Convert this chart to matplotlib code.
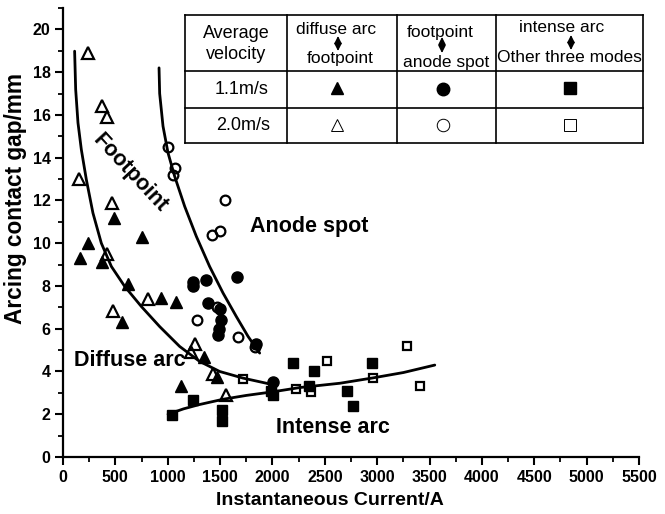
import matplotlib
matplotlib.use("Agg")
import matplotlib.pyplot as plt
from matplotlib.ticker import MultipleLocator

plt.rcParams['font.family'] = ['Liberation Sans', 'DejaVu Sans']

# diffuse arc <-> footpoint transition points
tri_11_x = [487, 754, 235, 162, 372, 620, 936, 1077, 565, 1347, 1470, 1122]
tri_11_y = [11.2, 10.3, 10.0, 9.3, 9.1, 8.1, 7.45, 7.25, 6.3, 4.7, 3.75, 3.3]
tri_20_x = [239, 372, 420, 153, 468, 420, 811, 480, 1262, 1225, 1432, 1556]
tri_20_y = [18.9, 16.4, 15.9, 13.0, 11.9, 9.5, 7.4, 6.85, 5.3, 4.9, 3.9, 2.9]

# footpoint <-> anode spot transition points
circ_11_x = [1241, 1241, 1365, 1661, 1384, 1499, 1509, 1490, 1480, 1843, 2005]
circ_11_y = [8.2, 8.0, 8.3, 8.4, 7.2, 6.9, 6.4, 6.0, 5.7, 5.3, 3.5]
circ_20_x = [1003, 1069, 1050, 1547, 1423, 1499, 1470, 1279, 1671, 1833]
circ_20_y = [14.5, 13.5, 13.2, 12.0, 10.4, 10.55, 7.0, 6.4, 5.6, 5.15]

# intense arc <-> other three modes transition points
sq_11_x = [1041, 1241, 1518, 1518, 1990, 2005, 2196, 2349, 2397, 2712, 2769, 2950]
sq_11_y = [1.97, 2.67, 2.2, 1.7, 3.1, 2.9, 4.4, 3.3, 4.0, 3.1, 2.4, 4.4]
sq_20_x = [1719, 2225, 2368, 2521, 2960, 3285, 3409]
sq_20_y = [3.65, 3.2, 3.05, 4.5, 3.7, 5.2, 3.3]

# boundary curves between the arc modes
diffuse_fp_x = [111, 121, 143, 175, 223, 286, 366, 462, 589, 748, 923, 1114,
                1305, 1496, 1719, 1942, 1995]
diffuse_fp_y = [18.98, 17.19, 15.63, 14.38, 12.97, 11.41, 10.0, 8.91, 7.98, 7.04, 6.10, 5.17,
                4.47, 4.0, 3.69, 3.45, 3.38]
fp_anode_x = [917, 923, 955, 1003, 1066, 1162, 1273, 1400, 1528, 1655, 1767, 1878]
fp_anode_y = [18.2, 17.0, 15.47, 14.22, 13.13, 11.72, 10.32, 8.91, 7.67, 6.57, 5.64, 4.86]
intense_x = [1003, 1150, 1300, 1528, 1750, 2005, 2264, 2645, 2960, 3250, 3550]
intense_y = [2.0, 2.25, 2.45, 2.7, 2.88, 3.05, 3.25, 3.45, 3.7, 3.95, 4.3]

x_ticks = list(range(0, 5501, 500))
y_ticks = list(range(0, 21, 2))

fig = plt.figure(figsize=(6.65, 5.14), dpi=100)
ax = fig.add_axes([63 / 665, 1 - 457 / 514, 576 / 665, 449 / 514])

filled = dict(color='black', linestyle='none')
hollow = dict(color='black', linestyle='none', markerfacecolor='none', markeredgewidth=1.6)
ax.plot(tri_11_x, tri_11_y, marker='^', markersize=8, **filled)
ax.plot(tri_20_x, tri_20_y, marker='^', markersize=8, **hollow)
ax.plot(circ_11_x, circ_11_y, marker='o', markersize=8, **filled)
ax.plot(circ_20_x, circ_20_y, marker='o', markersize=7, **hollow)
ax.plot(sq_11_x, sq_11_y, marker='s', markersize=6.5, **filled)
ax.plot(sq_20_x, sq_20_y, marker='s', markersize=6, **hollow)

for cx, cy in [(diffuse_fp_x, diffuse_fp_y), (fp_anode_x, fp_anode_y), (intense_x, intense_y)]:
    ax.plot(cx, cy, color='black', linewidth=2, solid_capstyle='round', solid_joinstyle='round')

lab = dict(fontsize=15.5, fontweight='bold', ha='center', va='center')
ax.text(640, 4.5, 'Diffuse arc', **lab)
ax.text(2349, 10.8, 'Anode spot', **lab)
ax.text(2578, 1.36, 'Intense arc', **lab)
ax.text(645, 13.3, 'Footpoint', rotation=-47, rotation_mode='anchor', **lab)

ax.set_xlim(0, 5500)
ax.set_ylim(0, 21)
ax.set_xticks(x_ticks)
ax.set_yticks(y_ticks)
ax.xaxis.set_minor_locator(MultipleLocator(250))
ax.yaxis.set_minor_locator(MultipleLocator(1))
for s in ['top', 'right']:
    ax.spines[s].set_visible(False)
for s in ['left', 'bottom']:
    ax.spines[s].set_linewidth(1.6)
ax.tick_params(which='major', length=6, width=1.5, labelsize=11.5, pad=3)
ax.tick_params(which='minor', length=3.5, width=1.3)
for t in ax.get_xticklabels() + ax.get_yticklabels():
    t.set_fontweight('bold')
ax.set_xlabel('Instantaneous Current/A', fontsize=14, fontweight='bold')
ax.set_ylabel('Arcing contact gap/mm', fontsize=16.3, fontweight='bold')
ax.xaxis.set_label_coords(0.464, -0.078)
ax.yaxis.set_label_coords(-0.063, 0.575)

# legend table, drawn in pixel coordinates on an overlay
tb = fig.add_axes([0, 0, 1, 1], facecolor='none')
tb.set_xlim(0, 665)
tb.set_ylim(514, 0)
tb.axis('off')

col_edges = [185, 287, 397, 496, 643]
row_edges = [15, 71, 108, 143]
tb.fill_between([col_edges[0], col_edges[-1]], row_edges[0], row_edges[-1], color='white', zorder=1)
for xe in col_edges:
    tb.plot([xe, xe], [row_edges[0], row_edges[-1]], color='black', linewidth=1.2, zorder=2)
for ye in row_edges:
    tb.plot([col_edges[0], col_edges[-1]], [ye, ye], color='black', linewidth=1.2, zorder=2)

txt = dict(fontsize=12.5, ha='center', va='center', zorder=3)
tb.text(236, 44, 'Average\nvelocity', linespacing=1.3, fontsize=13, ha='center', va='center', zorder=3)
tb.text(336, 30, 'diffuse arc', **txt)
tb.text(340, 59, 'footpoint', **txt)
tb.text(440, 32, 'footpoint', **txt)
tb.text(446, 62, 'anode spot', **txt)
tb.text(562, 28, 'intense arc', **txt)
tb.text(569, 57, 'Other three modes', **txt)
for arr_x, y0, y1 in [(338, 36, 51), (442, 37, 53), (571, 35, 50)]:
    tb.annotate('', xy=(arr_x, y1), xytext=(arr_x, y0),
                arrowprops=dict(arrowstyle='<|-|>', color='black', lw=1.0,
                                mutation_scale=11, shrinkA=0, shrinkB=0), zorder=3)

tb.text(242, 90, '1.1m/s', fontsize=13, ha='center', va='center', zorder=3)
tb.text(243, 125, '2.0m/s', fontsize=13, ha='center', va='center', zorder=3)
tb.plot([337], [88], marker='^', markersize=9, color='black', zorder=3)
tb.plot([443], [89], marker='o', markersize=9, color='black', zorder=3)
tb.plot([570], [88], marker='s', markersize=8, color='black', zorder=3)
tb.plot([337], [125], marker='^', markersize=9, color='black', markerfacecolor='none', markeredgewidth=0.7, zorder=3)
tb.plot([443], [125], marker='o', markersize=9, color='black', markerfacecolor='none', markeredgewidth=0.7, zorder=3)
tb.plot([570], [125], marker='s', markersize=8, color='black', markerfacecolor='none', markeredgewidth=0.7, zorder=3)

fig.savefig('out.png', dpi=100)
